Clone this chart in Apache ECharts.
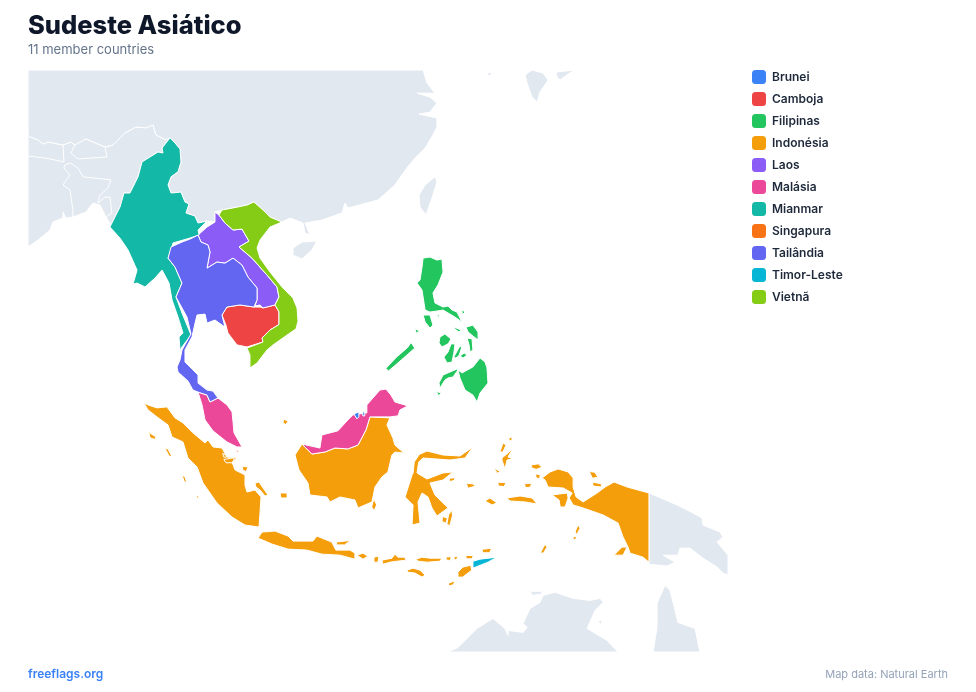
<!DOCTYPE html>
<html>

<head>
    <title>Sudeste Asiático</title>
    <meta charset="utf-8">
    <script src="https://cdn.jsdelivr.net/npm/echarts@6/dist/echarts.min.js"></script>
    <style>
        html, body { margin: 0; padding: 0; background: #fff; }
    </style>
</head>

<body>
    <div id="main" style="width: 976px;height:692px;"></div>

    <script type="text/javascript">
        // member countries, in legend order
        var countryNames = ['Brunei', 'Camboja', 'Filipinas', 'Indonésia', 'Laos', 'Malásia', 'Mianmar', 'Singapura', 'Tailândia', 'Timor-Leste', 'Vietnã'];
        var countryColors = ['#3b82f6', '#ef4444', '#22c55e', '#f59e0b', '#8b5cf6', '#ec4899', '#14b8a6', '#f97316', '#6366f1', '#06b6d4', '#84cc16'];

        // visible window, lon/lat
        var mapBounds = [[84.91, 33.66], [148.14, -16.56]];

        // outlines are [lon, lat] rings
        var indiaShape = [
            [[84.91,28.64],[85.09,28.48],[85.81,28.25],[86.26,27.92],[86.71,28.08],[88.07,27.84],[88.79,28.08],[89.15,27.84],[90.15,28.33],[91.87,27.68],[92.58,27.84],[93.67,28.8],[94.66,29.27],[95.57,29.2],[96.2,29.43],[96.47,28.64],[97.38,28.25],[97.74,28.41],[97.02,27.6],[97.1,27.2],[96.65,27.28],[95.21,26.48],[94.85,25.27],[94.12,23.94],[93.58,23.94],[93.22,22.78],[92.76,21.94],[92.31,21.1],[92.31,21.44],[91.96,21.94],[91.41,22.95],[90.78,23.11],[90.15,22.36],[88.97,21.94],[88.34,21.86],[88.07,22.36],[88.07,21.86],[87.17,21.52],[86.9,20.85],[85.81,20.0],[84.91,19.41]]
        ];
        var nepalShape = [
            [[84.91,28.64],[85.09,28.48],[85.81,28.25],[86.26,27.92],[86.71,28.08],[88.07,27.84],[88.16,26.48],[86.44,26.8],[85.63,26.88],[84.91,26.96]]
        ];
        var bhutanShape = [
            [[88.79,27.2],[89.24,28.0],[90.15,28.33],[91.87,27.68],[92.05,26.88],[89.42,26.72]]
        ];
        var bangladeshShape = [
            [[88.25,26.24],[88.7,26.4],[89.42,26.0],[89.88,25.27],[92.4,25.02],[92.13,24.36],[91.41,23.77],[91.23,23.11],[91.87,23.6],[92.31,23.6],[92.49,22.28],[91.96,21.94],[91.41,22.95],[90.78,23.11],[90.15,22.36],[88.97,21.94],[88.97,22.53],[88.7,24.19],[88.07,24.6],[88.7,25.43],[88.16,26.0]]
        ];
        var chinaShape = [
            [[120.6,33.66],[120.95,32.67],[121.67,31.9],[120.05,31.9],[121.22,31.6],[121.85,31.14],[121.22,30.43],[120.23,30.28],[121.85,29.97],[121.85,29.27],[121.49,28.64],[120.78,27.6],[119.87,26.8],[119.14,26.0],[118.05,24.6],[116.52,23.36],[113.81,22.7],[113.54,23.11],[113.27,22.28],[111.46,21.69],[109.93,21.44],[110.38,20.42],[109.93,20.59],[109.75,21.44],[108.58,21.86],[107.85,21.52],[106.77,21.94],[106.14,22.53],[105.32,23.2],[104.69,22.94],[103.43,22.7],[102.43,22.53],[101.8,22.36],[101.8,21.52],[101.08,21.6],[100.27,21.44],[99.99,22.03],[99.18,22.28],[99.45,23.03],[99.09,23.2],[98.73,24.02],[97.83,23.94],[97.56,24.6],[97.83,25.27],[98.46,25.68],[98.73,26.48],[98.64,27.52],[98.19,28.0],[97.74,28.41],[97.38,28.25],[96.47,28.64],[96.2,29.43],[95.57,29.2],[94.66,29.27],[93.67,28.8],[92.58,27.84],[91.87,27.68],[90.15,28.33],[89.15,27.84],[88.79,28.08],[88.07,27.84],[86.71,28.08],[86.26,27.92],[85.81,28.25],[85.09,28.48],[84.91,28.64],[84.91,33.66]],
            [[108.85,19.32],[109.66,19.83],[111.0,19.91],[110.55,19.15],[109.66,18.38],[108.85,18.72]]
        ];
        var taiwanShape = [
            [[121.67,25.27],[121.85,24.85],[121.4,23.53],[120.86,22.11],[120.32,22.78],[120.23,23.77],[120.78,24.6]]
        ];
        var japanShape = [
            [[129.81,33.28],[130.44,33.66],[131.44,33.43],[131.89,32.9],[131.16,31.98],[130.9,31.22],[130.44,31.6],[129.99,32.67]],
            [[132.61,33.5],[134.33,33.66],[133.7,33.35],[132.97,32.9],[132.7,33.13]]
        ];
        var koreaShape = [
            [[126.3,33.4],[126.9,33.5],[126.6,33.2]]
        ];
        var pngShape = [
            [[141.0,-2.43],[143.54,-3.51],[144.98,-4.23],[145.79,-4.68],[145.88,-5.32],[147.42,-5.95],[147.69,-6.4],[147.15,-6.85],[148.14,-8.02],[148.14,-9.8],[147.69,-9.62],[147.15,-9.08],[145.88,-8.29],[144.7,-7.39],[143.8,-7.39],[143.62,-8.02],[142.27,-8.02],[143.36,-8.65],[142.63,-9.0],[141.0,-8.83]],
            [[146.6,-2.2],[147.0,-2.15],[146.8,-2.3]]
        ];
        var australiaShape = [
            [[122.85,-16.56],[123.75,-16.17],[124.65,-15.3],[125.47,-14.51],[126.91,-13.63],[127.99,-14.51],[128.27,-15.12],[128.27,-14.68],[129.63,-14.86],[129.99,-14.42],[129.63,-14.07],[130.26,-12.75],[131.16,-12.22],[131.44,-11.6],[132.52,-11.33],[134.15,-11.86],[135.68,-12.05],[136.59,-11.86],[136.86,-12.22],[136.14,-12.93],[135.41,-14.51],[137.22,-15.56],[138.21,-16.56]],
            [[141.37,-16.56],[141.73,-14.42],[141.73,-12.31],[142.45,-10.7],[142.9,-11.15],[143.36,-12.93],[143.62,-13.98],[145.16,-14.51],[145.6,-16.56]],
            [[130.26,-11.24],[131.44,-11.24],[131.2,-11.5],[130.5,-11.6]],
            [[136.4,-13.8],[136.8,-13.85],[136.6,-14.2]]
        ];
        var bruneiShape = [
            [[114.35,4.71],[114.8,4.89],[114.8,4.44],[114.62,4.26]],
            [[115.15,4.89],[115.33,4.89],[115.33,4.53],[115.15,4.53]]
        ];
        var cambodiaShape = [
            [[102.88,14.22],[104.06,14.4],[105.32,14.22],[105.87,14.22],[106.14,14.14],[107.22,14.4],[107.58,13.8],[107.58,12.68],[106.77,12.2],[106.05,11.5],[106.14,11.14],[104.69,10.7],[103.79,10.88],[102.97,11.94],[102.79,12.63],[102.43,13.52]]
        ];
        var philippinesShape = [
            [[120.6,18.46],[121.22,18.55],[121.85,18.29],[122.3,18.38],[122.4,17.26],[121.94,16.14],[121.49,15.45],[121.67,14.58],[122.4,14.22],[122.85,14.31],[123.21,13.96],[123.66,13.78],[124.11,12.9],[123.48,13.34],[122.85,13.7],[122.4,13.96],[121.85,13.87],[121.22,13.78],[120.78,13.96],[120.5,15.71],[120.05,16.31],[120.32,16.57],[120.5,17.69]],
            [[120.6,13.52],[121.22,13.52],[121.49,12.63],[121.22,12.37],[120.78,12.9]],
            [[124.48,12.46],[125.1,12.63],[125.56,12.02],[125.56,11.32],[125.1,11.67],[124.66,12.02]],
            [[124.57,11.5],[125.02,11.41],[125.1,10.43],[124.84,10.25],[124.75,10.88]],
            [[122.12,11.58],[122.57,11.85],[123.12,11.41],[122.85,10.97],[122.3,10.7],[122.03,11.05]],
            [[123.12,10.97],[123.48,10.97],[123.39,10.25],[123.21,9.36],[122.76,9.27],[122.48,9.8],[122.85,10.25]],
            [[123.9,10.75],[124.1,10.7],[123.85,9.95],[123.55,9.7],[123.4,9.85]],
            [[123.93,9.89],[124.3,10.16],[124.57,9.98],[124.21,9.72]],
            [[123.39,12.46],[124.02,12.2],[123.84,12.02],[123.48,12.28]],
            [[124.1,13.96],[124.4,13.8],[124.15,13.55]],
            [[121.85,13.55],[122.1,13.5],[121.95,13.3]],
            [[125.74,9.72],[126.19,9.36],[126.37,8.83],[126.46,7.48],[125.74,6.58],[125.47,5.78],[125.1,6.4],[124.39,6.85],[123.93,7.93],[123.75,8.65],[123.3,8.02],[122.85,7.93],[122.57,7.75],[122.12,7.03],[122.03,7.48],[122.4,8.2],[123.66,8.74],[124.11,8.38],[125.1,8.92]],
            [[119.5,11.1],[119.85,10.6],[119.1,9.95],[118.0,9.0],[117.45,8.55],[117.25,8.8],[118.2,9.8],[119.2,10.65]],
            [[119.85,12.35],[120.25,12.1],[120.0,11.9]],
            [[121.8,6.7],[122.25,6.6],[122.0,6.35]]
        ];
        var indonesiaShape = [
            // Sumatra
            [[95.39,5.7],[95.75,5.52],[96.56,5.25],[97.46,5.34],[98.19,4.35],[98.91,3.9],[99.81,3.0],[100.9,2.09],[101.17,2.36],[101.62,1.73],[102.43,1.63],[102.88,0.82],[103.79,0.73],[103.34,0.37],[103.61,-0.35],[104.51,-0.8],[104.51,-1.71],[104.69,-2.34],[105.41,-2.16],[105.96,-2.79],[105.78,-5.5],[104.51,-5.32],[103.34,-4.6],[101.98,-3.33],[100.72,-1.53],[100.18,-0.08],[99.36,0.73],[98.91,2.18],[97.92,2.63],[97.56,3.71],[96.56,4.44],[95.75,5.07]],
            [[95.8,3.05],[96.45,2.65],[96.4,2.4],[95.95,2.55]],
            [[97.28,1.63],[97.56,1.55],[97.92,0.82],[97.65,0.9]],
            [[98.82,-0.8],[99.09,-0.98],[99.27,-1.53],[99.0,-1.35]],
            [[100.1,-2.5],[100.4,-2.9],[100.15,-2.85]],
            [[105.41,-1.53],[105.78,-1.44],[106.14,-1.98],[106.59,-2.61],[106.32,-2.7],[105.87,-2.16],[105.5,-1.89]],
            [[107.67,-2.43],[108.31,-2.43],[108.31,-2.88],[107.76,-2.88]],
            [[102.6,0.6],[103.5,0.75],[103.5,0.3],[102.8,0.3]],
            [[102.5,1.15],[103.05,0.85],[102.6,0.8]],
            [[104.3,0.0],[104.8,-0.1],[104.6,-0.5],[104.3,-0.35]],
            [[108.0,4.25],[108.4,4.05],[108.2,3.75],[107.95,3.9]],
            // Kalimantan
            [[109.66,1.99],[109.03,1.0],[109.39,-0.35],[110.2,-1.53],[110.38,-2.61],[111.92,-2.79],[112.19,-3.24],[113.09,-2.79],[114.44,-3.06],[114.72,-3.78],[115.98,-3.24],[116.25,-1.89],[116.88,-0.98],[117.42,-0.53],[117.78,1.0],[118.05,1.27],[118.87,1.18],[118.05,1.9],[117.87,2.54],[117.33,3.71],[117.6,4.35],[115.8,4.44],[115.44,3.27],[114.72,1.9],[113.81,1.55],[112.63,1.63],[111.73,1.27],[110.55,1.09],[109.75,1.9]],
            [[116.15,-2.95],[116.4,-3.5],[116.2,-4.0],[115.95,-3.7]],
            // Sulawesi
            [[120.95,1.36],[122.4,1.0],[123.93,0.91],[125.1,1.73],[124.39,0.73],[123.03,0.55],[120.6,0.73],[120.2,0.37],[120.05,-0.62],[120.95,-1.17],[122.4,-0.62],[123.3,-0.53],[122.4,-1.26],[121.22,-1.53],[121.67,-2.61],[122.4,-3.33],[122.85,-3.78],[121.85,-4.5],[121.4,-3.78],[121.04,-2.79],[120.5,-2.43],[120.14,-3.24],[120.32,-5.14],[119.6,-5.32],[119.69,-3.51],[118.97,-2.79],[119.6,-0.8],[119.7,-0.62],[119.8,0.37],[120.25,1.05]],
            [[123.21,-3.96],[123.25,-4.5],[123.0,-5.4],[122.75,-5.2],[122.9,-4.4]],
            [[122.35,-4.55],[122.8,-4.7],[122.65,-5.15],[122.3,-5.0]],
            [[122.95,-1.1],[123.5,-1.05],[123.4,-1.3],[123.0,-1.4]],
            [[124.5,-1.55],[125.05,-1.6],[125.35,-1.8],[124.65,-2.0]],
            // Java and the Lesser Sunda chain
            [[105.69,-6.49],[106.05,-5.95],[107.22,-5.86],[108.4,-6.31],[108.85,-6.76],[110.65,-6.76],[111.0,-6.31],[112.35,-6.85],[112.72,-7.57],[114.0,-7.57],[114.44,-7.84],[114.44,-8.38],[113.09,-8.02],[111.46,-7.93],[110.11,-7.57],[108.4,-7.48],[106.95,-7.03]],
            [[112.75,-6.85],[114.05,-6.7],[113.5,-7.1],[112.8,-7.1]],
            [[114.62,-8.02],[115.17,-7.84],[115.62,-8.11],[115.17,-8.38]],
            [[116.16,-8.2],[116.61,-8.11],[116.52,-8.65],[116.16,-8.65]],
            [[116.88,-8.47],[117.78,-8.29],[118.05,-7.93],[118.33,-8.2],[118.96,-8.2],[119.05,-8.47],[118.24,-8.56],[117.6,-8.65],[116.97,-8.83]],
            [[119.96,-8.38],[120.5,-8.2],[121.22,-8.29],[122.3,-8.29],[122.12,-8.56],[120.95,-8.65],[120.14,-8.56]],
            [[122.65,-8.2],[123.15,-8.15],[123.05,-8.5],[122.7,-8.45]],
            [[123.4,-8.15],[123.75,-8.15],[123.6,-8.45],[123.4,-8.4]],
            [[124.45,-8.05],[125.15,-8.05],[125.0,-8.35],[124.5,-8.35]],
            [[125.9,-7.5],[126.8,-7.4],[126.6,-7.8],[126.0,-7.8]],
            [[119.14,-9.36],[119.69,-9.18],[120.32,-9.36],[120.78,-9.8],[120.5,-9.98],[119.87,-9.62],[119.23,-9.54]],
            [[124.9,-8.92],[124.99,-9.36],[124.18,-9.98],[123.75,-9.98],[123.75,-9.54],[124.18,-9.09]],
            [[122.85,-10.55],[123.45,-10.3],[123.35,-10.65],[122.95,-10.75]],
            // Maluku
            [[126.19,-3.15],[126.64,-2.88],[127.27,-3.33],[126.82,-3.51]],
            [[128.18,-2.88],[129.36,-2.7],[130.44,-2.88],[130.9,-3.42],[129.81,-3.24],[128.45,-3.15]],
            [[127.72,0.73],[128.27,1.18],[128.72,1.63],[128.27,0.82],[128.72,0.64],[128.18,0.55],[127.99,-0.26],[127.72,0.55]],
            [[127.54,1.27],[127.81,2.09],[128.09,1.9],[127.81,1.27]],
            [[128.36,2.54],[128.63,2.63],[128.63,2.36],[128.36,2.27]],
            [[127.35,-1.45],[128.1,-1.5],[127.9,-1.85],[127.4,-1.8]],
            [[127.0,-0.15],[127.55,-0.5],[127.3,-0.65]],
            [[129.75,-1.6],[130.4,-1.55],[130.3,-1.9],[129.85,-1.95]],
            [[130.35,0.1],[131.0,0.2],[131.35,-0.1],[130.8,-0.3],[130.4,-0.15]],
            [[130.75,-0.7],[131.2,-0.8],[131.1,-1.15],[130.8,-1.05]],
            [[134.6,-5.32],[134.78,-5.6],[134.5,-6.13],[134.33,-6.04],[134.42,-5.7]],
            [[134.15,-6.4],[134.5,-6.31],[134.33,-6.67],[134.15,-6.58]],
            [[131.2,-7.8],[131.6,-7.05],[131.8,-7.3],[131.45,-7.85]],
            // Papua
            [[131.35,-1.07],[132.07,-0.53],[132.79,-0.26],[133.7,-0.53],[134.15,-1.07],[134.15,-1.89],[134.42,-2.79],[135.05,-3.24],[136.32,-2.43],[137.04,-1.89],[137.85,-1.44],[139.02,-1.89],[141.0,-2.43],[141.0,-8.65],[140.47,-8.2],[139.29,-7.84],[139.11,-7.3],[138.66,-6.4],[138.21,-5.14],[136.86,-4.41],[135.05,-3.78],[134.15,-3.51],[133.79,-2.88],[134.06,-2.43],[133.25,-1.98],[131.89,-1.89],[131.62,-1.26]],
            [[132.25,-2.61],[133.61,-2.43],[133.7,-2.88],[133.43,-3.69],[132.98,-3.69],[132.88,-3.06]],
            [[137.85,-8.02],[138.57,-7.3],[139.02,-7.3],[138.66,-8.02]],
            [[135.6,-0.5],[136.1,-0.55],[136.4,-1.0],[135.9,-1.1]],
            [[135.9,-1.45],[136.7,-1.6],[136.7,-1.9],[135.95,-1.8]]
        ];
        var laosShape = [
            [[101.8,22.36],[102.16,22.11],[102.7,21.44],[103.43,20.85],[104.24,20.93],[104.87,19.91],[103.97,19.41],[105.14,18.46],[106.5,17.0],[107.4,15.97],[107.58,15.1],[107.22,14.4],[106.14,14.14],[105.87,14.4],[105.41,14.31],[105.6,14.84],[105.6,15.88],[104.78,16.83],[104.24,17.86],[103.43,18.46],[102.7,18.03],[101.98,18.12],[101.08,17.6],[101.35,18.98],[101.17,19.58],[100.54,19.83],[100.27,20.42],[101.08,21.1],[101.8,21.52]]
        ];
        var malaysiaShape = [
            [[100.27,6.67],[101.08,6.4],[101.35,5.78],[102.07,6.14],[102.88,5.52],[103.34,4.89],[103.43,3.99],[103.52,3.0],[104.24,1.73],[103.79,1.73],[102.88,2.18],[101.62,3.18],[100.9,4.17],[100.63,5.52]],
            [[109.66,1.99],[111.28,1.63],[111.46,2.81],[112.9,3.18],[113.81,4.17],[114.26,4.62],[115.52,4.8],[115.52,5.52],[116.7,6.85],[117.24,6.94],[117.69,6.4],[118.05,5.78],[119.23,5.43],[118.51,5.07],[118.33,4.53],[117.6,4.44],[115.8,4.44],[115.44,3.27],[114.72,1.9],[113.81,1.55],[112.63,1.63],[111.73,1.27],[110.55,1.09],[109.75,1.9]]
        ];
        var myanmarShape = [
            [[97.74,28.41],[98.19,28.0],[98.64,27.52],[98.73,26.48],[98.46,25.68],[97.83,25.27],[97.56,24.6],[97.83,23.94],[98.73,24.02],[99.09,23.2],[99.45,23.03],[99.18,22.28],[99.99,22.03],[100.27,21.44],[101.08,21.6],[100.27,20.85],[100.36,20.42],[99.54,20.17],[98.01,19.75],[97.83,19.15],[97.56,18.46],[98.19,17.69],[98.82,16.31],[98.28,15.1],[98.82,13.7],[99.45,12.2],[99.63,11.76],[98.82,10.7],[98.64,10.43],[98.55,11.58],[98.91,11.94],[98.46,13.34],[97.92,14.84],[97.65,16.31],[97.02,17.43],[96.38,16.74],[95.48,15.97],[94.76,16.31],[94.4,16.22],[94.76,17.43],[93.95,19.15],[93.22,20.17],[92.31,21.1],[92.76,21.94],[93.22,22.78],[93.58,23.94],[94.12,23.94],[94.85,25.27],[95.21,26.48],[96.65,27.28],[97.1,27.2],[97.02,27.6]]
        ];
        var singaporeShape = [
            [[103.65,1.42],[104.0,1.42],[103.85,1.25]]
        ];
        var thailandShape = [
            [[97.83,19.41],[98.82,19.83],[99.54,20.08],[100.27,20.42],[100.54,19.83],[101.17,19.58],[101.35,18.98],[101.08,17.6],[101.98,18.12],[102.7,18.03],[103.43,18.46],[104.24,17.86],[104.78,16.83],[105.6,15.88],[105.6,14.84],[105.32,14.22],[104.06,14.4],[102.88,14.22],[102.43,13.52],[102.7,12.46],[101.8,13.08],[101.08,12.81],[100.9,13.6],[100.18,13.52],[100.0,12.81],[99.72,11.58],[99.09,10.43],[99.09,9.36],[99.81,8.65],[100.27,8.2],[100.27,7.48],[101.08,6.85],[101.62,6.76],[102.07,6.14],[101.35,5.78],[101.08,6.4],[100.27,6.67],[99.81,6.85],[99.36,7.66],[98.46,8.47],[98.37,8.92],[98.64,9.54],[98.82,10.43],[99.63,11.85],[99.27,13.34],[98.28,15.1],[98.82,16.31],[98.19,17.69],[97.56,18.46]]
        ];
        var timorShape = [
            [[125.1,-8.56],[125.74,-8.38],[127.27,-8.2],[126.46,-8.65],[125.1,-9.18]]
        ];
        var vietnamShape = [
            [[102.43,22.53],[103.43,22.7],[104.69,22.94],[105.32,23.2],[106.14,22.53],[106.77,21.94],[107.85,21.52],[106.77,21.1],[105.87,20.0],[105.6,19.32],[105.87,18.46],[106.77,17.26],[107.85,15.97],[108.84,15.01],[109.21,14.14],[109.3,12.99],[109.12,12.3],[108.58,11.94],[107.04,10.88],[106.5,10.43],[105.6,9.27],[104.96,8.83],[104.96,9.98],[104.69,10.6],[106.14,11.14],[106.05,11.5],[106.77,12.2],[107.58,12.68],[107.58,13.8],[107.22,14.4],[107.58,15.1],[107.4,15.97],[106.5,17.0],[105.14,18.46],[103.97,19.41],[104.87,19.91],[104.24,20.93],[103.43,20.85],[102.7,21.44],[102.16,22.11]]
        ];

        // drawn in this order, later ones on top
        var regionList = [
            ['Índia', indiaShape], ['Nepal', nepalShape], ['Butão', bhutanShape], ['Bangladesh', bangladeshShape],
            ['China', chinaShape], ['Taiwan', taiwanShape], ['Japão', japanShape], ['Coreia do Sul', koreaShape],
            ['Papua-Nova Guiné', pngShape], ['Austrália', australiaShape],
            ['Indonésia', indonesiaShape], ['Malásia', malaysiaShape], ['Brunei', bruneiShape], ['Camboja', cambodiaShape],
            ['Filipinas', philippinesShape], ['Laos', laosShape], ['Mianmar', myanmarShape], ['Singapura', singaporeShape],
            ['Tailândia', thailandShape], ['Timor-Leste', timorShape], ['Vietnã', vietnamShape]
        ];

        var geoJson = {
            type: 'FeatureCollection',
            features: regionList.map(function (r) {
                return {
                    type: 'Feature',
                    properties: { name: r[0] },
                    geometry: {
                        type: 'MultiPolygon',
                        coordinates: r[1].map(function (ring) { return [ring.concat([ring[0]])]; })
                    }
                };
            })
        };
        echarts.registerMap('sudeste', geoJson);

        var myChart = echarts.init(document.getElementById('main'));

        var font = 'Inter';
        var rad = Math.PI / 180;

        var option = {
            animation: false,
            title: [
                { text: 'Sudeste Asiático', left: 28, top: 13, padding: 0, textStyle: { fontFamily: font, fontSize: 25.5, fontWeight: 800, color: '#0f172a' } },
                { text: '11 member countries', left: 28, top: 44, padding: 0, textStyle: { fontFamily: font, fontSize: 13, fontWeight: 400, color: '#64748b' } },
                { text: 'freeflags.org', left: 28, top: 668, padding: 0, textStyle: { fontFamily: font, fontSize: 12, fontWeight: 600, color: '#3b82f6' } },
                { text: 'Map data: Natural Earth', right: 28, top: 669, padding: 0, textStyle: { fontFamily: font, fontSize: 11, fontWeight: 400, color: '#94a3b8' } }
            ],
            legend: {
                orient: 'vertical',
                left: 752,
                top: 70,
                padding: 0,
                itemWidth: 14,
                itemHeight: 14,
                itemGap: 8,
                icon: 'roundRect',
                selectedMode: false,
                data: countryNames,
                itemStyle: { borderWidth: 0 },
                textStyle: { fontFamily: font, fontSize: 12, fontWeight: 600, color: '#1e293b', padding: [0, 0, 0, 1] }
            },
            geo: {
                map: 'sudeste',
                left: 28,
                top: 70,
                width: 700,
                height: 582,
                roam: false,
                silent: true,
                boundingCoords: mapBounds,
                projection: {
                    project: function (p) {
                        return [p[0], -Math.log(Math.tan(Math.PI / 4 + p[1] * rad / 2)) / rad];
                    },
                    unproject: function (p) {
                        return [p[0], (2 * Math.atan(Math.exp(-p[1] * rad)) - Math.PI / 2) / rad];
                    }
                },
                label: { show: false },
                itemStyle: { areaColor: '#e2e8f0', borderColor: '#ffffff', borderWidth: 1 },
                regions: countryNames.map(function (name, i) {
                    return { name: name, itemStyle: { areaColor: countryColors[i] } };
                })
            },
            // one series per member so each gets its legend entry
            series: countryNames.map(function (name, i) {
                return {
                    type: 'map',
                    name: name,
                    geoIndex: 0,
                    silent: true,
                    showLegendSymbol: false,
                    itemStyle: { color: countryColors[i], borderWidth: 0 },
                    data: [{ name: name, value: 1 }]
                };
            })
        };

        myChart.setOption(option);
    </script>
</body>

</html>
